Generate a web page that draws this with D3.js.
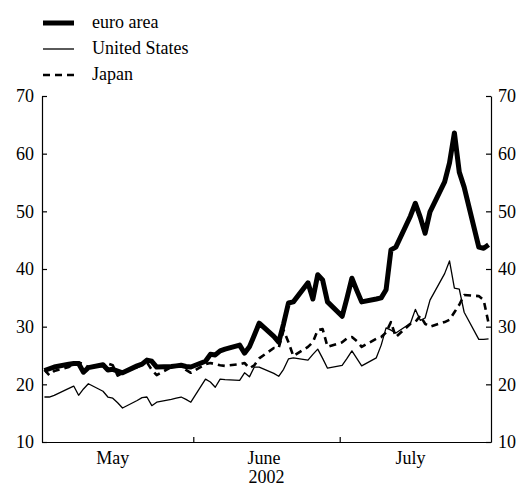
<!DOCTYPE html>
<html><head><meta charset="utf-8">
<script src="https://cdn.jsdelivr.net/npm/d3@7"></script>
<style>
body{margin:0;background:#fff}
svg text{font-family:"Liberation Serif",Tinos,"Times New Roman",Times,"DejaVu Serif","Noto Serif",serif !important;fill:#000}
</style>
</head><body><svg id="c" width="525" height="486"></svg>
<script>
// ---- data ----
const seriesNames = ["euro area", "United States", "Japan"];
const monthLabels = ["May", "June", "July"];
const yearLabel = "2002";
const yTicks = [10, 20, 30, 40, 50, 60, 70];

// business days, 1 May 2002 - 31 July 2002
const euroArea = [
  22.4,22.7,23.0, 23.5,23.6,23.6,22.1,22.9, 23.4,22.5,22.6,22.3,22.0, 23.2,23.5,24.2,24.0,23.0, 23.1,23.2,23.3,23.1,23.0,
  24.0,25.2,25.1,25.8,26.1, 26.8,25.4,26.5,28.5,30.6, 28.3,27.3,30.5,34.1,34.3, 37.6,34.8,39.0,38.1,34.3,
  31.8,35.0,38.4,36.3,34.3, 34.8,35.0,36.4,43.3,43.8, 49.2,51.4,49.0,46.2,49.9, 55.1,58.4,63.6,56.8,54.2, 43.8,43.6,44.2
];
const unitedStates = [
  17.8,17.8,18.1, 19.3,19.7,18.1,19.2,20.1, 18.8,17.8,17.6,16.8,15.9, 17.2,17.7,17.8,16.3,16.9, 17.4,17.6,17.8,17.4,16.9,
  20.9,20.4,19.5,20.9,20.8, 20.7,22.0,21.3,23.0,23.0, 21.9,21.4,22.6,24.4,24.6, 24.2,25.2,26.1,24.5,22.8,
  23.3,24.5,25.8,24.5,23.2, 24.6,26.8,29.8,29.4,28.9, 30.6,33.0,31.1,31.5,34.6, 39.2,41.4,36.7,36.5,32.5, 27.8,27.8,27.9
];
const japan = [
  22.5,21.6,22.3, 23.0,23.6,23.8,23.5,23.0, 23.2,23.6,23.3,21.5,22.0, 23.0,23.4,23.8,22.5,21.6, 23.0,23.3,23.2,22.5,22.0,
  23.5,23.7,23.5,23.3,23.2, 23.5,23.7,22.8,23.3,24.5, 26.3,26.3,29.4,27.3,24.9, 26.5,27.3,29.4,29.6,26.5,
  27.3,28.0,28.2,27.5,26.5, 27.9,28.2,29.0,30.8,28.2, 30.5,30.8,31.9,30.5,30.0, 30.8,31.2,32.5,33.8,35.5, 35.3,34.6,30.6
];

// ---- chart ----
const FONT = '"Liberation Serif",Tinos,"Times New Roman",Times,"DejaVu Serif","Noto Serif",serif';
const FS = 18;
const svg = d3.select("#c");
const start = new Date(2002, 4, 1), end = new Date(2002, 7, 1);
const dates = d3.timeDay.range(start, end).filter(d => d.getDay() !== 0 && d.getDay() !== 6);

const L = 42, R = 491, T = 96, B = 442;
const x = d3.scaleTime().domain([start, end]).range([L, R]);
const y = d3.scaleLinear().domain([10, 70]).range([B, T]);

const series = [
  {name: seriesNames[0], values: euroArea, width: 5, dash: null},
  {name: seriesNames[1], values: unitedStates, width: 1.3, dash: null},
  {name: seriesNames[2], values: japan, width: 2.6, dash: "7,5"}
];

const line = d3.line()
  .x((v, i) => x(d3.timeHour.offset(dates[i], 12)))
  .y(v => y(v));

svg.append("defs").append("clipPath").attr("id", "clip")
  .append("rect").attr("x", L).attr("y", T - 10).attr("width", R - L).attr("height", B - T + 10);

const g = svg.append("g").attr("clip-path", "url(#clip)");
[series[1], series[2], series[0]].forEach(s => {
  g.append("path").datum(s.values)
    .attr("d", line)
    .attr("fill", "none")
    .attr("stroke", "#000")
    .attr("stroke-width", s.width)
    .attr("stroke-linejoin", "round")
    .attr("stroke-dasharray", s.dash);
});

// axes
const styleAxis = sel => {
  sel.attr("font-family", FONT).attr("font-size", FS);
  sel.selectAll("path").attr("stroke", "#000").attr("stroke-width", 1.2);
  sel.selectAll("line").attr("stroke", "#000").attr("stroke-width", 1.2);
  sel.selectAll("text").attr("font-size", FS).style("font-family", FONT);
};
svg.append("g").attr("transform", `translate(${L},0)`)
  .call(d3.axisLeft(y).tickValues(yTicks).tickSizeInner(-5).tickSizeOuter(0).tickPadding(8))
  .call(styleAxis);
svg.append("g").attr("transform", `translate(${R},0)`)
  .call(d3.axisRight(y).tickValues(yTicks).tickSizeInner(-5).tickSizeOuter(0).tickPadding(7))
  .call(styleAxis);
svg.append("g").attr("transform", `translate(0,${B})`)
  .call(d3.axisBottom(x).tickValues([new Date(2002,5,1), new Date(2002,6,1)]).tickFormat("").tickSizeInner(-5).tickSizeOuter(0))
  .call(styleAxis);

// month labels
svg.selectAll(".month").data(monthLabels).join("text")
  .attr("class", "month")
  .attr("x", (m, i) => x(new Date(2002, 4 + i, 15, 12)))
  .attr("y", 464)
  .attr("text-anchor", "middle")
  .attr("font-size", FS)
  .style("font-family", FONT)
  .text(d => d);
svg.append("text")
  .attr("x", (L + R) / 2).attr("y", 483)
  .attr("text-anchor", "middle").attr("font-size", FS)
  .style("font-family", FONT)
  .text(yearLabel);

// legend
const lg = svg.append("g");
const legY = [23, 49, 75], legBase = [28, 54, 80];
series.forEach((s, i) => {
  lg.append("line").attr("x1", 43).attr("x2", 74).attr("y1", legY[i]).attr("y2", legY[i])
    .attr("stroke", "#000").attr("stroke-width", s.width).attr("stroke-dasharray", s.dash);
  lg.append("text").attr("x", 92).attr("y", legBase[i]).attr("font-size", FS)
    .style("font-family", FONT).text(s.name);
});
</script>
</body></html>
